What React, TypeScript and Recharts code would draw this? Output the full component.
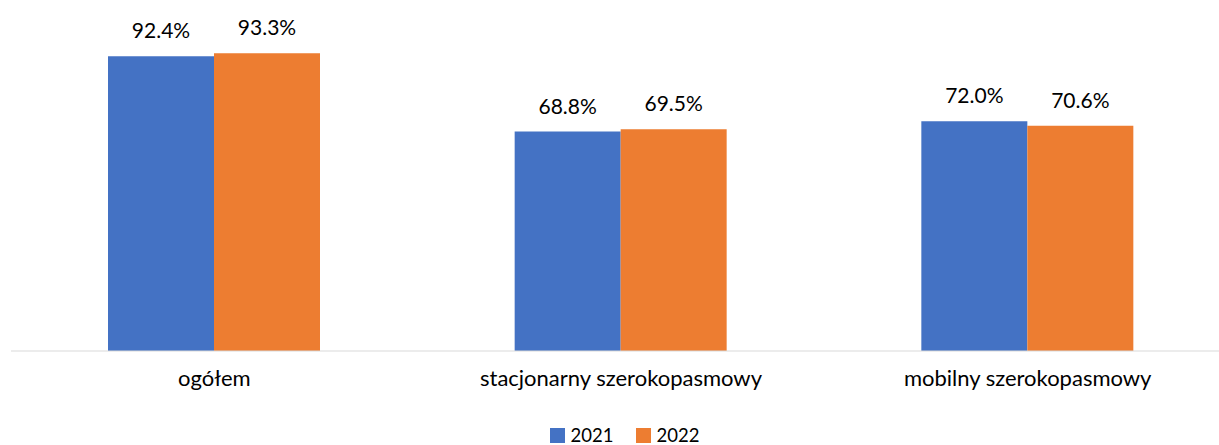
import { Bar, BarChart, LabelList, Legend, XAxis, YAxis } from "recharts";

const categories = ["ogółem", "stacjonarny szerokopasmowy", "mobilny szerokopasmowy"];
const values2021 = [92.4, 68.8, 72.0];
const values2022 = [93.3, 69.5, 70.6];

const data = categories.map((name, i) => ({
  name,
  y2021: values2021[i],
  y2022: values2022[i]
}));

const font = "Lato, 'Open Sans', sans-serif";
const pct = (v: any) => `${Number(v).toFixed(1)}%`;

function LegendContent({ payload }: any) {
  return (
    <div style={{ display: "flex", justifyContent: "center", alignItems: "center", height: 20, lineHeight: "20px", fontFamily: font, fontSize: 18.5, color: "#000" }}>
      {(payload || []).map((p: any, i: number) => (
        <div key={i} style={{ display: "flex", alignItems: "center", marginLeft: i ? 22 : 0 }}>
          <span style={{ width: 15, height: 15, background: p.color, display: "inline-block", marginRight: 6 }} />
          <span>{p.value}</span>
        </div>
      ))}
    </div>
  );
}

export default function App() {
  return (
    <div style={{ position: "absolute", left: 0, top: 0, width: 1219, height: 445, overflow: "hidden", background: "#fff" }}>
      <BarChart
        width={1240}
        height={445}
        data={data}
        margin={{ top: 32, right: 9, bottom: 0, left: 11 }}
        barGap={0}
      >
        <XAxis
          dataKey="name"
          height={94}
          stroke="#d9d9d9"
          tickLine={false}
          tickSize={0}
          tickMargin={19}
          tick={{ fill: "#000", fontSize: 22, fontFamily: font }}
        />
        <YAxis hide domain={[0, 100]} />
        <Legend
          verticalAlign="middle"
          align="center"
          wrapperStyle={{ top: 425, left: 15, width: 1219, height: 20 }}
          content={<LegendContent />}
        />
        <Bar dataKey="y2021" name="2021" fill="#4472C4" barSize={106} isAnimationActive={false}>
          <LabelList dataKey="y2021" position="top" offset={18} formatter={pct} fill="#000" fontSize={21} fontFamily={font} />
        </Bar>
        <Bar dataKey="y2022" name="2022" fill="#ED7D31" barSize={106} isAnimationActive={false}>
          <LabelList dataKey="y2022" position="top" offset={18} formatter={pct} fill="#000" fontSize={21} fontFamily={font} />
        </Bar>
      </BarChart>
    </div>
  );
}
